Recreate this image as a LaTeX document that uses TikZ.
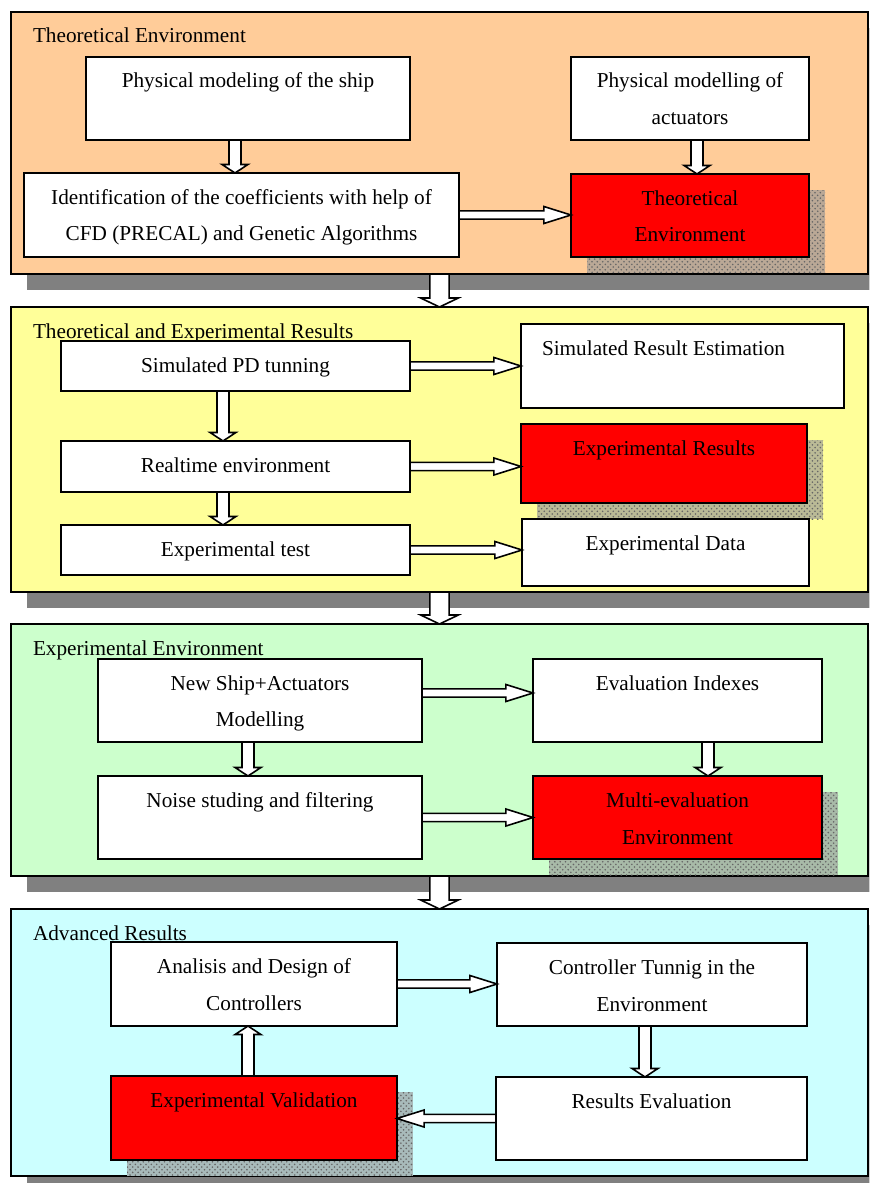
\documentclass[tikz,border=0pt]{standalone}
\usepackage{fontspec}
\setmainfont{Liberation Serif}
\usetikzlibrary{calc,shadows,patterns}
\newlength{\pu}
\setlength{\pu}{0.565pt}
\definecolor{theocol}{HTML}{FFCC99}
\definecolor{rescol}{HTML}{FFFF99}
\definecolor{expcol}{HTML}{CCFFCC}
\definecolor{advcol}{HTML}{CCFFFF}
\definecolor{hotred}{HTML}{FF0000}
\definecolor{shadegray}{HTML}{808080}
\newcommand{\boxtxt}[3]{\parbox[c][#2\pu][t]{#1\pu}{\centering\rule{0pt}{31\pu}#3}}
\newcommand{\lefttxt}[4]{\parbox[c][#2\pu][t]{#1\pu}{\hspace*{#3\pu}\rule{0pt}{31\pu}#4}}
\newcommand{\blockar}[5]{%
  \coordinate (arS) at (#1);
  \coordinate (arT) at (#2);
  \coordinate (arB) at ($(arT)!#5!(arS)$);
  \draw[arline] ($(arS)!#3!90:(arT)$) -- ($(arB)!#3!-90:(arS)$) -- ($(arB)!#4!-90:(arS)$) -- (arT)
    -- ($(arB)!#4!90:(arS)$) -- ($(arB)!#3!90:(arS)$) -- ($(arS)!#3!-90:(arT)$) -- cycle;
}
\newcommand{\vflow}[2]{\blockar{#1}{#2}{3.4pt}{7.3pt}{4.8pt}}
\newcommand{\hflow}[2]{\blockar{#1}{#2}{2.3pt}{4.8pt}{15.3pt}}
\newcommand{\pflow}[2]{\blockar{#1}{#2}{5.4pt}{10.7pt}{5.1pt}}
\tikzset{
  blk/.style={draw, line width=1.1pt, fill=white, inner sep=0pt, outer sep=0pt, anchor=north west},
  hotblk/.style={blk, fill=hotred,
    preaction={draw=none, fill=#1!40!shadegray!90!white, transform canvas={shift={(9.04pt,-9.04pt)}}},
    preaction={draw=none, pattern=crosshatch dots, pattern color=shadegray!80!black, transform canvas={shift={(9.04pt,-9.04pt)}}}},
  panel/.style={draw, line width=1.1pt, fill=#1, inner sep=0pt, outer sep=0pt, anchor=north west,
    general shadow={fill=shadegray, shadow xshift=9.04pt, shadow yshift=-9.04pt}},
  arline/.style={draw, fill=white, line width=0.9pt, line join=miter}
}
\begin{document}
\begin{tikzpicture}[x=0.565pt, y=-0.565pt, every node/.style={font=\fontsize{12pt}{20.9pt}\selectfont}]
  \useasboundingbox (0,0) rectangle (870,1183);
  \clip (0,0) rectangle (869.4,1183);

  \node[panel=theocol] (theoenv) at (11,12) {\lefttxt{857}{262}{22}{Theoretical Environment}};
  \node[blk] (ship) at (86,57) {\boxtxt{324}{83}{Physical modeling of the ship}};
  \node[blk] (actuators) at (571,57) {\boxtxt{238}{83}{Physical modelling of\\actuators}};
  \node[blk] (coeffs) at (24,173) {\boxtxt{435}{84}{Identification of the coefficients with help of\\CFD (PRECAL) and Genetic Algorithms}};
  \node[hotblk=theocol] (theo) at (571,174) {\boxtxt{238}{83}{Theoretical\\Environment}};
  \vflow{ship.south -| 235,0}{coeffs.north -| 235,0}
  \vflow{actuators.south -| 697,0}{theo.north -| 697,0}
  \hflow{coeffs.east}{theo.west |- coeffs.east}

  \node[panel=rescol] (resenv) at (11,307) {\lefttxt{857}{285}{22}{Theoretical and Experimental Results}};
  \node[blk] (pdtune) at (61,341) {\boxtxt{349}{50}{Simulated PD tunning}};
  \node[blk] (realtime) at (61,441) {\boxtxt{349}{51}{Realtime environment}};
  \node[blk] (exptest) at (61,525) {\boxtxt{349}{50}{Experimental test}};
  \node[blk] (simest) at (521,324) {\lefttxt{323}{84}{21}{Simulated Result Estimation}};
  \node[hotblk=rescol] (expres) at (521,424) {\boxtxt{286}{79}{Experimental Results}};
  \node[blk] (expdata) at (522,519) {\boxtxt{287}{67}{Experimental Data}};
  \vflow{pdtune.south -| 223,0}{realtime.north -| 223,0}
  \vflow{realtime.south -| 223,0}{exptest.north -| 223,0}
  \hflow{pdtune.east}{simest.west |- pdtune.east}
  \hflow{realtime.east}{expres.west |- realtime.east}
  \hflow{exptest.east}{expdata.west |- exptest.east}

  \node[panel=expcol] (expenv) at (11,624) {\lefttxt{857}{252}{22}{Experimental Environment}};
  \node[blk] (newmodel) at (98,659) {\boxtxt{324}{83}{New Ship+Actuators\\Modelling}};
  \node[blk] (noise) at (98,776) {\boxtxt{324}{83}{Noise studing and filtering}};
  \node[blk] (evalidx) at (533,659) {\boxtxt{289}{83}{Evaluation Indexes}};
  \node[hotblk=expcol] (multieval) at (533,776) {\boxtxt{289}{83}{Multi-evaluation\\Environment}};
  \vflow{newmodel.south -| 248,0}{noise.north -| 248,0}
  \vflow{evalidx.south -| 708,0}{multieval.north -| 708,0}
  \hflow{newmodel.east |- 0,693}{evalidx.west |- 0,693}
  \hflow{noise.east}{multieval.west |- noise.east}

  \node[panel=advcol] (advenv) at (11,909) {\lefttxt{857}{267}{22}{Advanced Results}};
  \node[blk] (design) at (111,942) {\boxtxt{286}{84}{Analisis and Design of\\Controllers}};
  \node[hotblk=advcol] (expval) at (111,1076) {\boxtxt{286}{84}{Experimental Validation}};
  \node[blk] (tuning) at (497,943) {\boxtxt{310}{83}{Controller Tunnig in the\\Environment}};
  \node[blk] (reseval) at (496,1077) {\boxtxt{311}{83}{Results Evaluation}};
  \hflow{design.east}{tuning.west |- design.east}
  \vflow{tuning.south -| 645,0}{reseval.north -| 645,0}
  \hflow{reseval.west}{expval.east |- reseval.west}
  \vflow{expval.north -| 248,0}{design.south -| 248,0}

  \pflow{theoenv.south}{resenv.north}
  \pflow{resenv.south}{expenv.north}
  \pflow{expenv.south}{advenv.north}
\end{tikzpicture}
\end{document}
